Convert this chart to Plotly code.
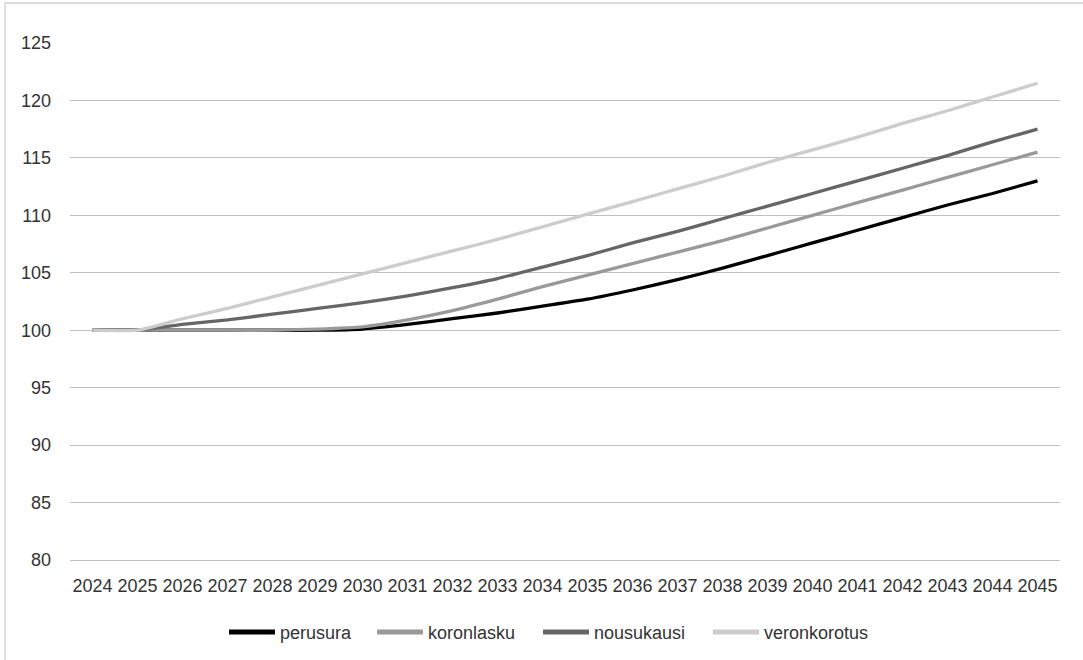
import plotly.graph_objects as go

years = list(range(2024, 2046))
year_labels = [str(y) for y in years]

perusura = [100, 100, 100, 100, 100, 100, 100.1, 100.5, 101.0, 101.5, 102.1, 102.7,
            103.5, 104.4, 105.4, 106.5, 107.6, 108.7, 109.8, 110.9, 111.9, 113.0]
koronlasku = [100, 100, 100, 100, 100, 100.1, 100.3, 100.9, 101.7, 102.7, 103.8, 104.8,
              105.8, 106.8, 107.8, 108.9, 110.0, 111.1, 112.2, 113.3, 114.4, 115.5]
nousukausi = [100, 100, 100.5, 100.9, 101.4, 101.9, 102.4, 103.0, 103.7, 104.5, 105.5, 106.5,
              107.6, 108.6, 109.7, 110.8, 111.9, 113.0, 114.1, 115.2, 116.4, 117.5]
veronkorotus = [100, 100, 101.0, 101.9, 102.9, 103.9, 104.9, 105.9, 106.9, 107.9, 109.0, 110.1,
                111.2, 112.3, 113.4, 114.6, 115.7, 116.8, 118.0, 119.1, 120.3, 121.5]

series = [
    ("perusura", perusura, "#000000"),
    ("koronlasku", koronlasku, "#999999"),
    ("nousukausi", nousukausi, "#666666"),
    ("veronkorotus", veronkorotus, "#cccccc"),
]

y_ticks = [80, 85, 90, 95, 100, 105, 110, 115, 120, 125]

W, H = 1083, 660
ml, mr, mt, mb = 70, 23, 43, 100
pw = W - ml - mr
ph = H - mt - mb
grid_col = "#c0c0c0"
text_col = "#333333"

# left pixel of each legend entry (one legend box per entry, to reproduce spacing)
legend_left_px = [224, 372, 538, 708]
legend_ids = ["legend", "legend2", "legend3", "legend4"]

fig = go.Figure()
for name, vals, col in series:
    fig.add_trace(go.Scatter(
        x=years, y=vals, name=name, mode="lines", legendgroup=name, showlegend=False,
        line=dict(color=col, width=3.3, shape="spline", smoothing=0.5),
    ))
for (name, vals, col), lid in zip(series, legend_ids):
    fig.add_trace(go.Scatter(
        x=[None], y=[None], name=name, mode="lines", legendgroup=name, showlegend=True,
        legend=lid, line=dict(color=col, width=5),
    ))

legend_cfg = {}
for lid, px in zip(legend_ids, legend_left_px):
    legend_cfg[lid] = dict(orientation="h", x=(px - ml) / pw, xanchor="left",
                           y=-0.104, yanchor="top", bgcolor="rgba(0,0,0,0)",
                           font=dict(size=18, color=text_col), itemwidth=46,
                           itemclick=False, itemdoubleclick=False)

fig.update_layout(
    width=W, height=H,
    margin=dict(l=ml, r=mr, t=mt, b=mb, autoexpand=False),
    paper_bgcolor="white", plot_bgcolor="white",
    font=dict(family="Liberation Sans, Arial, sans-serif", size=18, color=text_col),
    showlegend=True,
    xaxis=dict(range=[2023.5, 2045.5], tickmode="array", tickvals=years,
               ticktext=year_labels, showgrid=False, zeroline=False,
               showline=True, linecolor=grid_col, linewidth=1.3,
               ticks="", ticklabelstandoff=9, fixedrange=True, automargin=False),
    yaxis=dict(range=[80, 125], tickmode="array", tickvals=y_ticks,
               ticktext=[str(v) for v in y_ticks], showgrid=True,
               gridcolor=grid_col, gridwidth=1.3, zeroline=False, showline=False,
               ticks="", ticklabelstandoff=18, fixedrange=True, automargin=False),
    shapes=[dict(type="rect", xref="paper", yref="paper",
                 x0=(5 - ml) / pw, x1=(W + 10 - ml) / pw,
                 y0=(H - mb - (H + 10)) / ph, y1=(H - mb - 3) / ph,
                 line=dict(color="#d0d0d0", width=1.3), fillcolor="rgba(0,0,0,0)",
                 layer="below")],
    **legend_cfg,
)

fig.write_html("out.html")
